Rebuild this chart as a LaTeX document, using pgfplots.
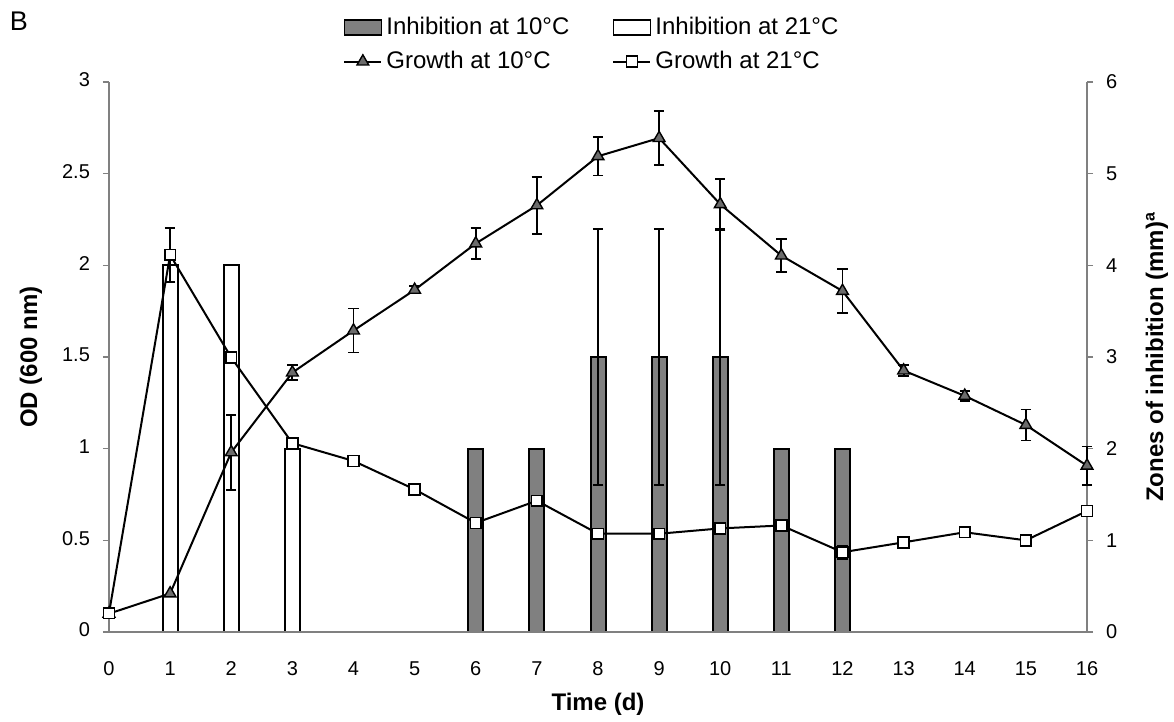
\documentclass[border=0pt]{standalone}
\usepackage{fontspec}
\setmainfont{Liberation Sans}
\usepackage{pgfplots}
\pgfplotsset{compat=1.18}

\definecolor{barfill}{gray}{0.5}
\definecolor{markfill}{gray}{0.42}
\definecolor{axisgray}{gray}{0.5}

\pgfplotsset{
  common/.style={
    at={(0,0)}, anchor=south west, scale only axis,
    width=489pt, height=275pt,
    xmin=0, xmax=16,
    axis line style={axisgray, line width=0.6pt},
    tick style={axisgray, line width=0.6pt},
    tick align=outside, major tick length=3pt,
    tick label style={font=\fontsize{10}{12}\selectfont},
    /pgf/number format/assume math mode=true,
    clip=false,
  },
  errs/.style={draw=none, mark=none, forget plot,
    error bars/.cd, y dir=both, y explicit,
    error bar style={draw=black, line width=0.9pt},
    error mark options={draw=black, line width=0.9pt, mark size=2.6pt, rotate=90}},
  boxlegend/.style={legend image code/.code={
    \draw[##1] (0pt,-3.75pt) rectangle (18.5pt,3.75pt);}},
  linelegend/.style={legend image code/.code={
    \draw[mark repeat=2, mark phase=2, ##1]
      plot coordinates {(0pt,0pt) (9.25pt,0pt) (18.5pt,0pt)};}},
}

\begin{document}
\begin{tikzpicture}
\useasboundingbox (-54.5pt,-45pt) rectangle (532.5pt,316pt);
\node[font=\fontsize{13.5}{16}\selectfont] at (-45pt,305.5pt) {B};

% right axis: zones of inhibition (bars)
\begin{axis}[common,
  ymin=0, ymax=6, ytick={0,1,2,3,4,5,6},
  axis x line=none, axis y line*=right,
  yticklabel style={xshift=3pt},
  ylabel={Zones of inhibition (mm)\textsuperscript{a}},
  every axis y label/.style={at={(axis description cs:1,0.5)}, xshift=35pt,
    rotate=90, anchor=center, font=\bfseries\fontsize{12}{14}\selectfont},
]
\addplot[ybar, bar width=7.5pt, bar shift=0pt, fill=barfill, draw=black, line width=1pt]
  coordinates {(6,2) (7,2) (8,3) (9,3) (10,3) (11,2) (12,2)};
\addplot[ybar, bar width=7.5pt, bar shift=0pt, fill=white, draw=black, line width=1pt]
  coordinates {(1,4) (2,4) (3,2)};
\addplot[errs] coordinates {(8,3) +- (0,1.4) (9,3) +- (0,1.4) (10,3) +- (0,1.4)};
\end{axis}

% left axis: OD (lines)
\begin{axis}[common,
  ymin=0, ymax=3, ytick={0,0.5,1,1.5,2,2.5,3},
  axis x line*=bottom, axis y line*=left,
  xtick={0,1,...,16}, xtick style={draw=none},
  typeset ticklabels with strut,
  xticklabel style={yshift=-6.8pt},
  yticklabel style={xshift=-3pt},
  xlabel={Time (d)}, ylabel={OD (600 nm)},
  every axis x label/.style={at={(axis description cs:0.5,0)}, yshift=-36pt,
    anchor=center, font=\bfseries\fontsize{12}{14}\selectfont},
  every axis y label/.style={at={(axis description cs:0,0.5)}, xshift=-39pt,
    rotate=90, anchor=center, font=\bfseries\fontsize{12}{14}\selectfont},
  legend columns=2,
  legend cell align=left,
  legend style={at={(axis description cs:0.2331,1.1327)}, anchor=north west,
    draw=none, fill=none, font=\fontsize{12}{14}\selectfont, row sep=2.8pt,
    /tikz/every even column/.append style={column sep=19.5pt}},
]
\addlegendimage{boxlegend, black, fill=barfill, line width=0.8pt}
\addlegendentry{Inhibition at 10°C}
\addlegendimage{boxlegend, black, fill=white, line width=0.8pt}
\addlegendentry{Inhibition at 21°C}

% error bars first, so that the marks sit on top
\addplot[errs] coordinates {
  (2,0.98) +- (0,0.205) (3,1.415) +- (0,0.04) (4,1.644) +- (0,0.12)
  (5,1.866) +- (0,0.02) (6,2.119) +- (0,0.085) (7,2.327) +- (0,0.155)
  (8,2.595) +- (0,0.105) (9,2.694) +- (0,0.146) (10,2.333) +- (0,0.14)
  (11,2.053) +- (0,0.09) (12,1.86) +- (0,0.12) (13,1.426) +- (0,0.03)
  (14,1.288) +- (0,0.026) (15,1.129) +- (0,0.085) (16,0.907) +- (0,0.105) };
\addplot[errs] coordinates {(1,2.057) +- (0,0.147) (12,0.435) +- (0,0.036)};

\addplot[linelegend, black, line width=1pt, mark=triangle*, mark size=3.4pt,
  mark options={fill=markfill, draw=black, line width=0.7pt}]
  coordinates {
  (0,0.10) (1,0.21) (2,0.98) (3,1.415) (4,1.644) (5,1.866) (6,2.119)
  (7,2.327) (8,2.595) (9,2.694) (10,2.333) (11,2.053) (12,1.86)
  (13,1.426) (14,1.288) (15,1.129) (16,0.907) };
\addlegendentry{Growth at 10°C}
\addplot[linelegend, black, line width=1pt, mark=square*, mark size=2.7pt,
  mark options={fill=white, draw=black, line width=0.8pt}]
  coordinates {
  (0,0.102) (1,2.057) (2,1.497) (3,1.03) (4,0.933) (5,0.778) (6,0.595)
  (7,0.716) (8,0.536) (9,0.536) (10,0.565) (11,0.581) (12,0.435)
  (13,0.489) (14,0.544) (15,0.50) (16,0.66) };
\addlegendentry{Growth at 21°C}
\end{axis}
\end{tikzpicture}
\end{document}
